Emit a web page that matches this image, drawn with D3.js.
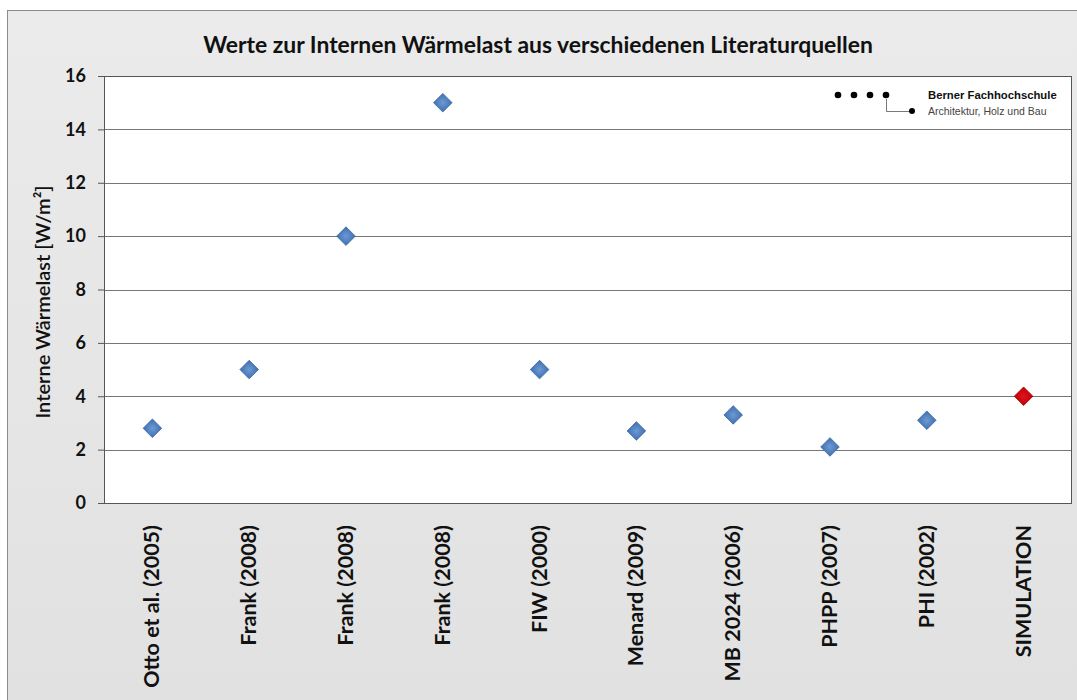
<!DOCTYPE html>
<html><head><meta charset="utf-8">
<script src="https://cdn.jsdelivr.net/npm/d3@7"></script>
<style>body{margin:0;background:#fff;}svg{display:block;}</style>
</head><body>
<svg id="c" width="1077" height="700"></svg>
<script>
const categories = ["Otto et al. (2005)","Frank (2008)","Frank (2008)","Frank (2008)","FIW (2000)","Menard (2009)","MB 2024 (2006)","PHPP (2007)","PHI (2002)","SIMULATION"];
const values = [2.8,5,10,15,5,2.7,3.3,2.1,3.1,4];
const yTicks = [0,2,4,6,8,10,12,14,16];
const title = "Werte zur Internen Wärmelast aus verschiedenen Literaturquellen";
const yLabel = "Interne Wärmelast [W/m²]";

const svg = d3.select("#c");
const defs = svg.append("defs");
const g1 = defs.append("linearGradient").attr("id","bg").attr("x1",0).attr("y1",0).attr("x2",0).attr("y2",1);
g1.append("stop").attr("offset","0").attr("stop-color","#ebebeb");
g1.append("stop").attr("offset","1").attr("stop-color","#e1e1e1");
const rb = defs.append("radialGradient").attr("id","blue");
rb.append("stop").attr("offset","0").attr("stop-color","#6d9ad6");
rb.append("stop").attr("offset","1").attr("stop-color","#3f6fae");
const rr = defs.append("radialGradient").attr("id","red");
rr.append("stop").attr("offset","0").attr("stop-color","#e0141a");
rr.append("stop").attr("offset","1").attr("stop-color","#bf0008");

svg.append("rect").attr("x",0).attr("y",0).attr("width",1077).attr("height",700).attr("fill","#fff");
svg.append("rect").attr("x",7.5).attr("y",10.5).attr("width",1075).attr("height",700).attr("fill","url(#bg)").attr("stroke","#8c8c8c").attr("stroke-width",1);

const M = {l:104, r:1072, t:76, b:503};
const x = d3.scaleBand().domain(d3.range(categories.length)).range([M.l, M.r]);
const y = d3.scaleLinear().domain([0,16]).range([M.b, M.t]);

svg.append("rect").attr("x",M.l).attr("y",M.t).attr("width",M.r-M.l).attr("height",M.b-M.t).attr("fill","#fff");

// grid
svg.append("g").selectAll("line").data(yTicks.filter(d=>d>0)).join("line")
  .attr("x1",M.l).attr("x2",M.r).attr("y1",d=>Math.round(y(d))+0.5).attr("y2",d=>Math.round(y(d))+0.5)
  .attr("stroke","#777").attr("stroke-width",1.2);

// y axis
const ya = svg.append("g").attr("transform",`translate(${M.l},0)`)
  .call(d3.axisLeft(y).tickValues(yTicks).tickSize(6).tickPadding(12));
ya.select(".domain").attr("stroke","#555");
ya.selectAll(".tick line").attr("stroke","#555");
ya.selectAll("text").attr("font-family","Lato, 'Open Sans', sans-serif").attr("font-weight","bold").attr("font-size","18px").attr("fill","#111");

// frame
svg.append("rect").attr("x",M.l+0.5).attr("y",M.t+0.5).attr("width",M.r-M.l-1).attr("height",M.b-M.t).attr("fill","none").attr("stroke","#555");

// x labels
svg.append("g").selectAll("text").data(categories).join("text")
  .attr("transform",(d,i)=>`translate(${x(i)+x.bandwidth()/2+7},${M.b+22}) rotate(-90)`)
  .attr("text-anchor","end")
  .attr("font-family","Lato, 'Open Sans', sans-serif").attr("font-weight","bold").attr("font-size","21.5px").attr("fill","#111")
  .text(d=>d);

// markers
const diamond = d3.symbol().type(d3.symbolDiamond2).size(220);
svg.append("g").selectAll("path").data(values).join("path")
  .attr("transform",(d,i)=>`translate(${x(i)+x.bandwidth()/2},${y(d)})`)
  .attr("d",diamond)
  .attr("fill",(d,i)=>i===values.length-1?"url(#red)":"url(#blue)")
  .attr("stroke",(d,i)=>i===values.length-1?"#b00006":"#3a679f").attr("stroke-width",0.8);

// title
svg.append("text").attr("x",538).attr("y",53).attr("text-anchor","middle")
  .attr("font-family","Lato, 'Open Sans', sans-serif").attr("font-weight","bold").attr("font-size","22.9px").attr("fill","#111")
  .text(title);

// y label
svg.append("text").attr("transform","translate(50,302) rotate(-90)").attr("text-anchor","middle")
  .attr("font-family","Lato, 'Open Sans', sans-serif").attr("font-weight","600").attr("font-size","20px").attr("fill","#111")
  .text(yLabel);

// logo
const logo = svg.append("g");
[838,854,870,886].forEach(cx=>logo.append("circle").attr("cx",cx).attr("cy",95).attr("r",3.3).attr("fill","#000"));
logo.append("path").attr("d","M886.5,99 V111.5 H910").attr("fill","none").attr("stroke","#555").attr("stroke-width",0.8);
logo.append("circle").attr("cx",912).attr("cy",111).attr("r",3).attr("fill","#000");
logo.append("text").attr("x",928).attr("y",99).attr("font-family","'Liberation Sans', Arial, sans-serif").attr("font-weight","bold").attr("font-size","11.3px").attr("fill","#111").text("Berner Fachhochschule");
logo.append("text").attr("x",928).attr("y",114.5).attr("font-family","'Liberation Sans', Arial, sans-serif").attr("font-size","10.5px").attr("fill","#444").text("Architektur, Holz und Bau");
</script>
</body></html>
